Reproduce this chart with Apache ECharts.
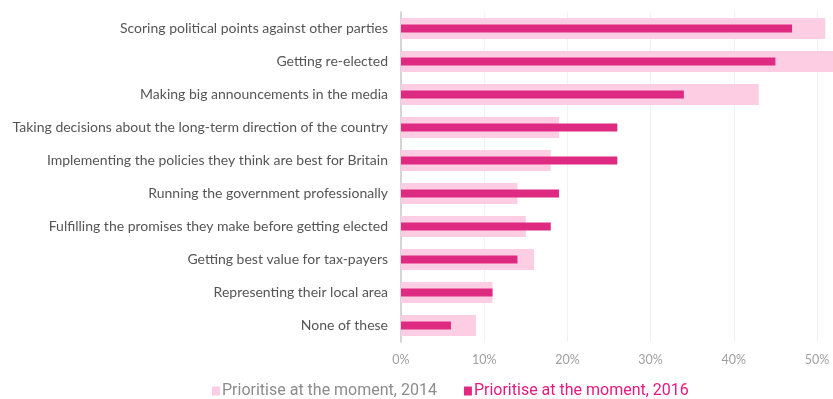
<!DOCTYPE html>
<html>
<head>
<meta charset="utf-8">
<script src="https://cdn.jsdelivr.net/npm/echarts@6/dist/echarts.min.js"></script>
<style>
  html, body { margin: 0; padding: 0; background: #fff; }
  #chart { width: 833px; height: 399px; }
</style>
</head>
<body>
<div id="chart"></div>
<script>
// Priorities of politicians, share of respondents (%)
const categories = [
  'Scoring political points against other parties',
  'Getting re-elected',
  'Making big announcements in the media',
  'Taking decisions about the long-term direction of the country',
  'Implementing the policies they think are best for Britain',
  'Running the government professionally',
  'Fulfilling the promises they make before getting elected',
  'Getting best value for tax-payers',
  'Representing their local area',
  'None of these'
];
const values2014 = [51, 53, 43, 19, 18, 14, 15, 16, 11, 9];
const values2016 = [47, 45, 34, 26, 26, 19, 18, 14, 11, 6];
const seriesNames = ['Prioritise at the moment, 2014', 'Prioritise at the moment, 2016'];
const tickValues = [0, 10, 20, 30, 40, 50];

const chart = echarts.init(document.getElementById('chart'), null, { renderer: 'canvas' });
chart.setOption({
  animation: false,
  backgroundColor: '#ffffff',
  grid: { left: 401, right: 16, top: 12, bottom: 57, containLabel: false },
  legend: {
    top: 378,
    left: 207,
    itemGap: 27,
    itemWidth: 8,
    itemHeight: 9,
    icon: 'rect',
    textStyle: { fontFamily: 'Roboto, sans-serif', fontSize: 16, padding: [0, 0, 0, -3] },
    data: [
      { name: seriesNames[0], textStyle: { color: '#8c8c8c' } },
      { name: seriesNames[1], textStyle: { color: '#e5197f' } }
    ]
  },
  xAxis: {
    type: 'value',
    min: tickValues[0],
    max: tickValues[tickValues.length - 1],
    interval: 10,
    axisLine: { show: false },
    axisTick: { show: false },
    splitLine: { show: true, lineStyle: { color: '#f1f1f1', width: 1 } },
    axisLabel: {
      formatter: '{value}%',
      color: '#a0a0a0',
      fontFamily: 'Lato, sans-serif',
      fontSize: 12.5,
      margin: 11
    }
  },
  yAxis: [
    {
      type: 'category',
      data: categories,
      inverse: true,
      axisLine: { show: true, lineStyle: { color: '#c8c8c8', width: 1.5 } },
      axisTick: { show: false },
      axisLabel: {
        color: '#555555',
        fontFamily: 'Lato, sans-serif',
        fontSize: 14,
        margin: 13
      }
    },
    {
      // overlay axis so the narrow 2016 bars sit centred on the wide 2014 bars
      type: 'category',
      data: categories,
      inverse: true,
      position: 'left',
      show: false
    }
  ],
  series: [
    {
      name: seriesNames[0],
      type: 'bar',
      yAxisIndex: 0,
      data: values2014,
      barWidth: 21,
      clip: false,
      itemStyle: { color: '#fdcde4' },
      z: 2
    },
    {
      name: seriesNames[1],
      type: 'bar',
      yAxisIndex: 1,
      data: values2016,
      barWidth: 8,
      clip: false,
      itemStyle: { color: '#df2a82' },
      z: 3
    }
  ]
});
</script>
</body>
</html>
